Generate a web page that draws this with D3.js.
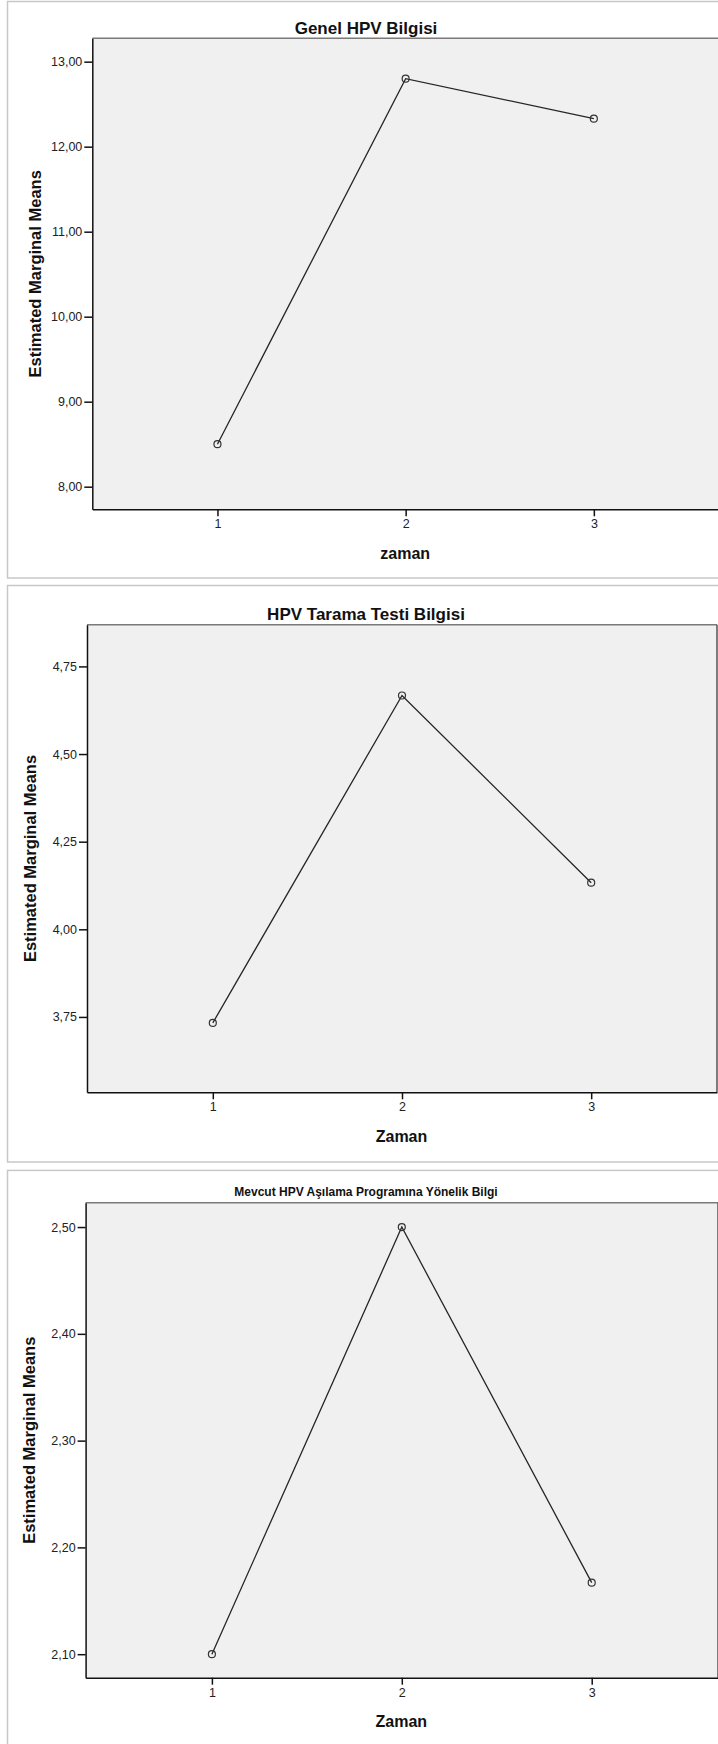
<!DOCTYPE html>
<html>
<head>
<meta charset="utf-8">
<script src="https://cdn.jsdelivr.net/npm/d3@7"></script>
<style>
  html, body { margin: 0; padding: 0; background: #fff; }
  svg { display: block; font-family: "Liberation Sans", Arial, sans-serif; }
  .tick text { font-size: 12.5px; fill: #222; }
  .chart-title, .axis-title { font-weight: bold; fill: #111; }
</style>
</head>
<body>
<svg id="chart" width="718" height="1744"></svg>
<script>
// zaman (time points)
const times = [1, 2, 3];

// estimated marginal means per panel
const genelMeans = [8.50, 12.80, 12.33];
const taramaMeans = [3.733, 4.667, 4.133];
const asilamaMeans = [2.10, 2.50, 2.167];

// y tick labels per panel
const genelTicks = [8, 9, 10, 11, 12, 13];
const taramaTicks = [3.75, 4.00, 4.25, 4.50, 4.75];
const asilamaTicks = [2.10, 2.20, 2.30, 2.40, 2.50];

// y ranges as shown by SPSS
const genelDomain = [7.734, 13.275];
const taramaDomain = [3.535, 4.869];
const asilamaDomain = [2.078, 2.5227];

const titles = ['Genel HPV Bilgisi', 'HPV Tarama Testi Bilgisi', 'Mevcut HPV Aşılama Programına Yönelik Bilgi'];
const xTitles = ['zaman', 'Zaman', 'Zaman'];
const yTitle = 'Estimated Marginal Means';

const panels = [
  { top: 1.5, bottom: 578, plot: { left: 92.3, right: 719, top: 38.3, bottom: 509.3 }, titleY: 27.5, titleSize: 17,
    means: genelMeans, ticks: genelTicks, domain: genelDomain, title: titles[0], xTitle: xTitles[0] },
  { top: 585.5, bottom: 1162, plot: { left: 87, right: 717, top: 624.7, bottom: 1092.3 }, titleY: 613.5, titleSize: 17,
    means: taramaMeans, ticks: taramaTicks, domain: taramaDomain, title: titles[1], xTitle: xTitles[1] },
  { top: 1170.4, bottom: 1760, plot: { left: 85.6, right: 718, top: 1202.8, bottom: 1677.7 }, titleY: 1191.7, titleSize: 12,
    means: asilamaMeans, ticks: asilamaTicks, domain: asilamaDomain, title: titles[2], xTitle: xTitles[2] }
];

const svg = d3.select('#chart');
const fmt = d => d3.format('.2f')(d).replace('.', ',');

panels.forEach(p => {
  const g = svg.append('g');

  // outer panel frame
  g.append('rect')
    .attr('x', 7.5).attr('y', p.top)
    .attr('width', 718).attr('height', p.bottom - p.top)
    .attr('fill', '#fff')
    .attr('stroke', '#c8c8c8')
    .attr('stroke-width', 1.5);

  const x = d3.scaleLinear()
    .domain([1 - 0.665, 3 + 0.665])
    .range([p.plot.left, p.plot.right]);
  const y = d3.scaleLinear()
    .domain(p.domain)
    .range([p.plot.bottom, p.plot.top]);

  // plot background
  g.append('rect')
    .attr('x', p.plot.left).attr('y', p.plot.top)
    .attr('width', p.plot.right - p.plot.left)
    .attr('height', p.plot.bottom - p.plot.top)
    .attr('fill', '#f0f0f0');

  // top and right edges are gray
  g.append('line')
    .attr('x1', p.plot.left).attr('x2', p.plot.right)
    .attr('y1', p.plot.top).attr('y2', p.plot.top)
    .attr('stroke', '#7a7a7a').attr('stroke-width', 1.5);
  g.append('line')
    .attr('x1', p.plot.right).attr('x2', p.plot.right)
    .attr('y1', p.plot.top).attr('y2', p.plot.bottom)
    .attr('stroke', '#555').attr('stroke-width', 1.5);

  // y axis
  const yAxisG = g.append('g')
    .attr('transform', `translate(${p.plot.left},0)`)
    .call(d3.axisLeft(y).tickValues(p.ticks).tickFormat(fmt).tickSize(8).tickPadding(2).tickSizeOuter(0));
  yAxisG.select('.domain').attr('stroke', '#111').attr('stroke-width', 1.5);
  yAxisG.selectAll('.tick line').attr('stroke', '#111').attr('stroke-width', 1.5);
  yAxisG.selectAll('.tick text').style('font-family', '"Liberation Sans", Arial, sans-serif');

  // x axis
  const xAxisG = g.append('g')
    .attr('transform', `translate(0,${p.plot.bottom})`)
    .call(d3.axisBottom(x).tickValues(times).tickFormat(d3.format('d')).tickSize(7).tickPadding(3).tickSizeOuter(0));
  xAxisG.select('.domain').attr('stroke', '#111').attr('stroke-width', 1.5);
  xAxisG.selectAll('.tick line').attr('stroke', '#111').attr('stroke-width', 1.5);
  xAxisG.selectAll('.tick text').style('font-family', '"Liberation Sans", Arial, sans-serif');

  // line + circle markers
  const pts = times.map((t, i) => ({ t, v: p.means[i] }));
  g.append('path')
    .datum(pts)
    .attr('fill', 'none')
    .attr('stroke', '#262626')
    .attr('stroke-width', 1.3)
    .attr('d', d3.line().x(d => x(d.t)).y(d => y(d.v)));
  g.selectAll('.marker')
    .data(pts)
    .join('circle')
      .attr('class', 'marker')
      .attr('cx', d => x(d.t))
      .attr('cy', d => y(d.v))
      .attr('r', 3.5)
      .attr('fill', 'none')
      .attr('stroke', '#333')
      .attr('stroke-width', 1.2);

  // titles
  g.append('text')
    .attr('class', 'chart-title')
    .attr('x', 366)
    .attr('y', p.titleY)
    .attr('dy', '0.36em')
    .attr('text-anchor', 'middle')
    .style('font-size', p.titleSize + 'px')
    .text(p.title);

  g.append('text')
    .attr('class', 'axis-title')
    .attr('x', (p.plot.left + p.plot.right) / 2 - 0.5)
    .attr('y', p.plot.bottom + 44)
    .attr('dy', '0.36em')
    .attr('text-anchor', 'middle')
    .style('font-size', '16px')
    .text(p.xTitle);

  g.append('text')
    .attr('class', 'axis-title')
    .attr('transform', `translate(${p.plot.left - 57},${(p.plot.top + p.plot.bottom) / 2}) rotate(-90)`)
    .attr('dy', '0.36em')
    .attr('text-anchor', 'middle')
    .style('font-size', '16.5px')
    .text(yTitle);
});
</script>
</body>
</html>
